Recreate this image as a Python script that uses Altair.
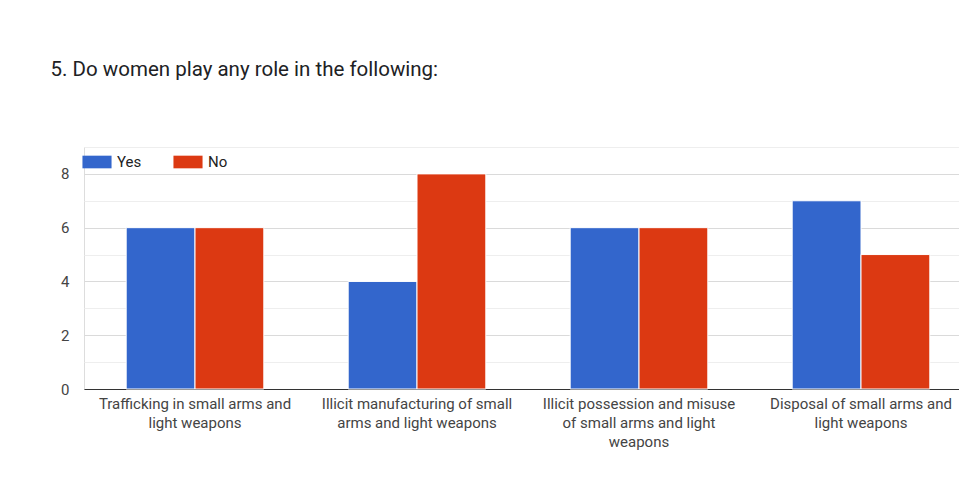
import altair as alt
import pandas as pd

categories = [
    "Trafficking in small arms and light weapons",
    "Illicit manufacturing of small arms and light weapons",
    "Illicit possession and misuse of small arms and light weapons",
    "Disposal of small arms and light weapons",
]
label_lines = [
    ["Trafficking in small arms and", "light weapons"],
    ["Illicit manufacturing of small", "arms and light weapons"],
    ["Illicit possession and misuse", "of small arms and light", "weapons"],
    ["Disposal of small arms and", "light weapons"],
]
series = ["Yes", "No"]
yes_values = [6, 4, 6, 7]
no_values = [6, 8, 6, 5]
colors = ["#3366CC", "#DC3912"]

rows = []
for c, y, n in zip(categories, yes_values, no_values):
    rows.append({"category": c, "answer": "Yes", "count": y})
    rows.append({"category": c, "answer": "No", "count": n})
df = pd.DataFrame(rows)

lookup = "{" + ", ".join(
    "'" + c + "': [" + ", ".join("'" + l + "'" for l in lines) + "]"
    for c, lines in zip(categories, label_lines)
) + "}"

font = "Roboto"

chart = alt.Chart(df).mark_bar(stroke="white", strokeWidth=1).encode(
    x=alt.X(
        "category:N",
        sort=categories,
        scale=alt.Scale(paddingInner=0.38, paddingOuter=0.19, range=[0, 888]),
        axis=alt.Axis(
            title=None,
            labelAngle=0,
            labelExpr=lookup + "[datum.value]",
            labelFont=font,
            labelFontSize=15,
            labelColor="#444444",
            labelPadding=7,
            labelLineHeight=19,
            labelBaseline="top",
            labelLimit=400,
            ticks=False,
            domainColor="#333333",
            domainWidth=1,
            grid=False,
        ),
    ),
    xOffset=alt.XOffset("answer:N", sort=series, scale=alt.Scale(paddingInner=0.0)),
    y=alt.Y(
        "count:Q",
        scale=alt.Scale(domain=[0, 9], nice=False),
        axis=alt.Axis(
            title=None,
            values=list(range(0, 10)),
            labelExpr="datum.value % 2 == 0 && datum.value < 9 ? datum.label : ''",
            labelFont=font,
            labelFontSize=15,
            labelColor="#444444",
            labelPadding=15,
            ticks=False,
            domain=False,
            gridColor={"condition": {"test": "datum.value % 2 == 1", "value": "#eeeeee"}, "value": "#dadada"},
            gridWidth=1,
        ),
    ),
    color=alt.Color(
        "answer:N",
        sort=series,
        scale=alt.Scale(domain=series, range=colors),
        legend=alt.Legend(
            title=None,
            orient="none",
            legendX=0,
            legendY=2,
            direction="horizontal",
            symbolType="M-1.15,-0.5H1.15V0.5H-1.15Z",
            symbolSize=640,
            symbolStrokeWidth=0,
            labelFont=font,
            labelFontSize=15,
            labelColor="#222222",
            columnPadding=31,
            labelOffset=7,
        ),
    ),
).properties(
    width=875,
    height=242,
    autosize=alt.AutoSizeParams(type="none"),
    padding={"left": 76, "top": 139, "right": 0, "bottom": 100},
    title=alt.TitleParams(
        "5. Do women play any role in the following:",
        anchor="start",
        font=font,
        fontSize=20.5,
        fontWeight="normal",
        color="#202124",
        dx=-10,
        offset=67,
    ),
).configure_view(stroke=None).configure(background="white")

chart.save("out.html", embed_options={"renderer": "svg", "actions": False})
